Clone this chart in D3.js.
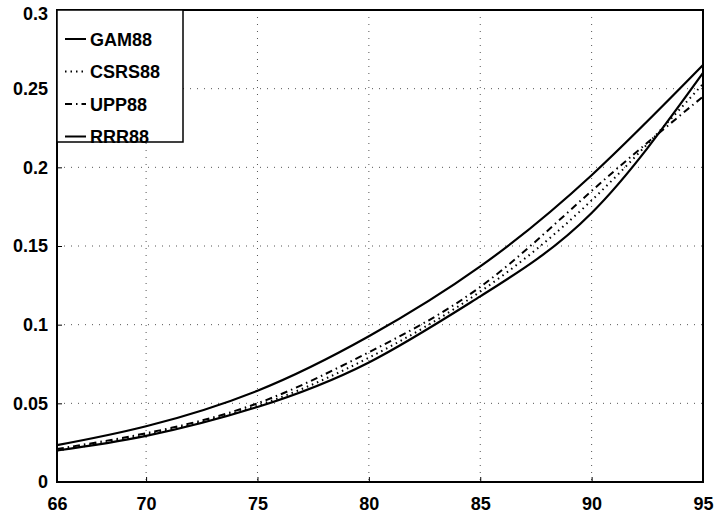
<!DOCTYPE html>
<html>
<head>
<meta charset="utf-8">
<script src="https://cdn.jsdelivr.net/npm/d3@7"></script>
<style>
  body { margin: 0; background: #fff; }
  svg { display: block; font-family: "Liberation Sans", Arial, sans-serif; }
</style>
</head>
<body>
<svg id="chart" width="719" height="515"></svg>
<script>
// ages on the x axis
const ages = [66, 70, 75, 80, 85, 90, 95];

// values, one list per table
const gam88  = [0.0200, 0.0293, 0.0477, 0.0760, 0.1180, 0.1710, 0.2600];
const csrs88 = [0.0200, 0.0300, 0.0485, 0.0790, 0.1210, 0.1790, 0.2530];
const upp88  = [0.0210, 0.0310, 0.0500, 0.0825, 0.1240, 0.1850, 0.2450];
const rrr88  = [0.0234, 0.0354, 0.0580, 0.0926, 0.1370, 0.1950, 0.2650];

const xTicks = [66, 70, 75, 80, 85, 90, 95];
const yTicks = [0, 0.05, 0.1, 0.15, 0.2, 0.25, 0.3];

const seriesNames = ["GAM88", "CSRS88", "UPP88", "RRR88"];
const seriesDash = [null, "1.5,4", "7,4,1.5,4", null];

const svg = d3.select("svg#chart");
const bounds = { minX: 57, maxX: 703, minY: 10, maxY: 482 };

const scaleX = d3.scaleLinear().domain([66, 95]).range([bounds.minX, bounds.maxX]);
const scaleY = d3.scaleLinear().domain([0, 0.3]).range([bounds.maxY, bounds.minY]);

// dotted grid
svg.append("g").selectAll("line.gx")
    .data(xTicks.slice(1, -1))
    .join("line")
    .attr("x1", d => scaleX(d)).attr("x2", d => scaleX(d))
    .attr("y1", bounds.minY).attr("y2", bounds.maxY)
    .attr("stroke", "#555").attr("stroke-width", 1)
    .attr("stroke-dasharray", "1,6");
svg.append("g").selectAll("line.gy")
    .data(yTicks.slice(1, -1))
    .join("line")
    .attr("x1", bounds.minX).attr("x2", bounds.maxX)
    .attr("y1", d => scaleY(d)).attr("y2", d => scaleY(d))
    .attr("stroke", "#555").attr("stroke-width", 1)
    .attr("stroke-dasharray", "1,6");

// axes (ticks pointing inward like matlab)
const xAxis = d3.axisBottom(scaleX).tickValues(xTicks).tickSize(-5).tickPadding(15)
    .tickFormat(d3.format("d"));
svg.append("g")
    .attr("transform", `translate(0 ${bounds.maxY})`)
    .call(xAxis);

const yAxis = d3.axisLeft(scaleY).tickValues(yTicks).tickSize(-5).tickPadding(9)
    .tickFormat(d => d === 0 ? "0" : String(d));
svg.append("g")
    .attr("transform", `translate(${bounds.minX} 0)`)
    .call(yAxis);

svg.selectAll(".domain").remove();
svg.selectAll(".tick line").attr("stroke", "#000");
svg.selectAll(".tick text")
    .attr("fill", "#000")
    .style("font-size", "18px")
    .style("font-weight", "bold");
// keep the top label inside the page
svg.selectAll(".tick text").filter(d => d === 0.3).attr("dy", "0.5em");

// frame
svg.append("rect")
    .attr("x", bounds.minX).attr("y", bounds.minY)
    .attr("width", bounds.maxX - bounds.minX)
    .attr("height", bounds.maxY - bounds.minY)
    .attr("fill", "none").attr("stroke", "#000").attr("stroke-width", 2);

// curves
const allSeries = [gam88, csrs88, upp88, rrr88];
const line = d3.line()
    .x((d, i) => scaleX(ages[i]))
    .y(d => scaleY(d))
    .curve(d3.curveNatural);

svg.append("g").selectAll("path.series")
    .data(allSeries)
    .join("path")
    .attr("d", d => line(d))
    .attr("fill", "none")
    .attr("stroke", "#000")
    .attr("stroke-width", (d, i) => seriesDash[i] ? 2 : 2.2)
    .attr("stroke-dasharray", (d, i) => seriesDash[i]);

// legend
const legend = svg.append("g");
legend.append("rect")
    .attr("x", bounds.minX).attr("y", bounds.minY)
    .attr("width", 126).attr("height", 132)
    .attr("fill", "#fff").attr("stroke", "#000").attr("stroke-width", 1.5);

const legendItems = legend.selectAll("g.item")
    .data(seriesNames)
    .join("g")
    .attr("transform", (d, i) => `translate(${bounds.minX} ${39 + i * 32.5})`);
legendItems.append("line")
    .attr("x1", 8).attr("x2", 29)
    .attr("y1", 0).attr("y2", 0)
    .attr("stroke", "#000").attr("stroke-width", 2)
    .attr("stroke-dasharray", (d, i) => seriesDash[i]);
legendItems.append("text")
    .attr("x", 33).attr("y", 6.5)
    .style("font-size", "18px")
    .style("font-weight", "bold")
    .text(d => d);
</script>
</body>
</html>
